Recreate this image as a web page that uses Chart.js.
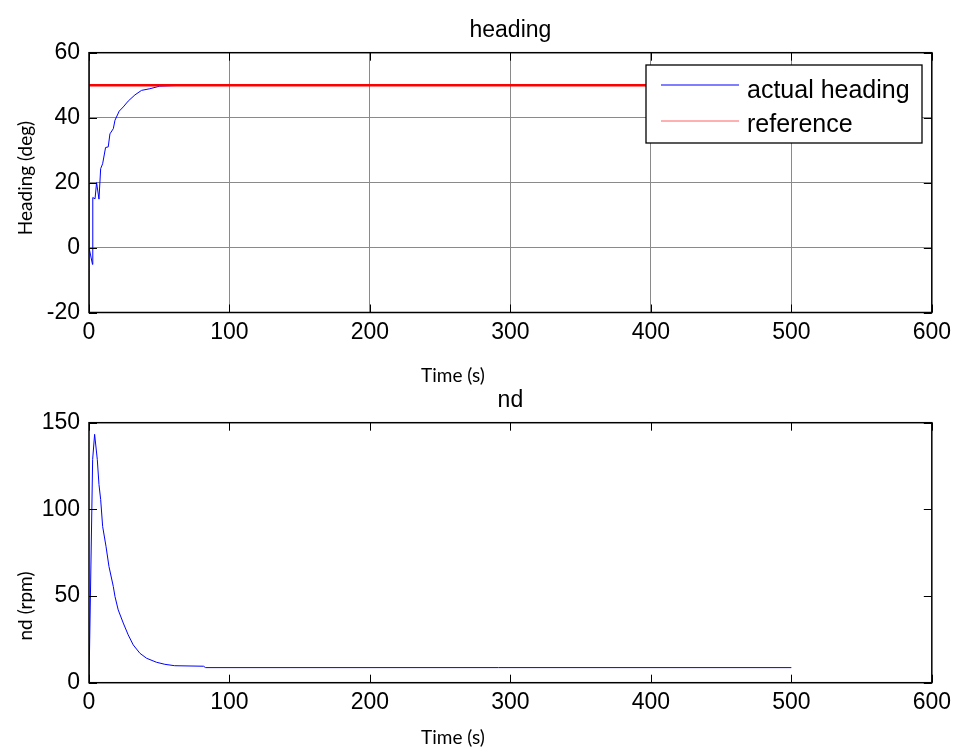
<!DOCTYPE html>
<html><head><meta charset="utf-8">
<script src="https://cdn.jsdelivr.net/npm/chart.js@4.4.1/dist/chart.umd.min.js"></script>
<style>
html,body{margin:0;padding:0;background:#fff;width:957px;height:749px;overflow:hidden}
canvas{position:absolute;left:0;display:block;background:transparent}
</style></head><body>
<canvas id="c1" width="957" height="400" style="top:0px"></canvas>
<canvas id="c2" width="957" height="379" style="top:370px"></canvas>
<script>
// ---- data ----
const headingTime = [0, 2.5, 2.7, 4.3, 5.4, 7.1, 8.3, 9.7, 11.8, 13.7, 14.9, 17.3, 18.5, 21.5, 24.4, 27.9, 32.7, 37.4, 43.3, 50.4, 62.3];
const headingActual = [0, -5.2, 15.4, 15.0, 20.0, 14.9, 24.3, 25.8, 30.8, 31.0, 35.0, 36.6, 39.2, 42.0, 43.3, 45.1, 47.0, 48.4, 48.9, 49.7, 49.9];
const referenceTime = [0, 500];
const referenceValue = [50, 50];
const ndTime = [0, 2.6, 4.0, 5.9, 7.1, 8.3, 9.7, 12.1, 14.2, 17.3, 18.5, 20.8, 24.4, 27.9, 31.5, 36.2, 41.0, 48.0, 54.0, 61.0, 81.5, 83.0, 500];
const ndValue = [0, 128.8, 143.3, 128.8, 114.3, 105.7, 90.2, 78.7, 67.1, 55.5, 49.7, 42.0, 34.4, 27.6, 21.8, 17.0, 14.1, 11.8, 10.6, 9.8, 9.5, 8.7, 8.7];
const timeTicks = [0, 100, 200, 300, 400, 500, 600];
const headingTicks = [-20, 0, 20, 40, 60];
const ndTicks = [0, 50, 100, 150];
const legendLabels = ['actual heading', 'reference'];

const pts = (xs, ys) => xs.map((x, i) => ({x: x, y: ys[i]}));
const TICK_FONT = {family: '"Liberation Sans", Arial, sans-serif', size: 23};

function decorPlugin(cfg) {
  return {
    id: 'decor',
    afterDraw(chart) {
      const ctx = chart.ctx, ca = chart.chartArea;
      const xs = chart.scales.x, ys = chart.scales.y;
      ctx.save();
      // inward tick marks
      ctx.strokeStyle = '#000'; ctx.lineWidth = 1;
      const L = 8;
      ctx.beginPath();
      cfg.xTicks.forEach(v => {
        const p = Math.round(xs.getPixelForValue(v)) + 0.5;
        ctx.moveTo(p, ca.bottom); ctx.lineTo(p, ca.bottom - L);
        ctx.moveTo(p, ca.top); ctx.lineTo(p, ca.top + L);
      });
      cfg.yTicks.forEach(v => {
        const p = Math.round(ys.getPixelForValue(v)) + 0.5;
        ctx.moveTo(ca.left, p); ctx.lineTo(ca.left + L, p);
        ctx.moveTo(ca.right, p); ctx.lineTo(ca.right - L, p);
      });
      ctx.stroke();
      // legend
      if (cfg.legend) {
        const lg = cfg.legend;
        ctx.fillStyle = '#fff';
        ctx.fillRect(lg.x, lg.y, lg.w, lg.h);
        ctx.strokeStyle = '#000'; ctx.lineWidth = 1.3;
        ctx.strokeRect(lg.x, lg.y, lg.w, lg.h);
        lg.items.forEach(it => {
          ctx.strokeStyle = it.color; ctx.lineWidth = 1;
          ctx.beginPath(); ctx.moveTo(lg.x + 15, it.ly); ctx.lineTo(lg.x + 93, it.ly); ctx.stroke();
          ctx.fillStyle = '#000';
          ctx.font = '25px "Liberation Sans", Arial, sans-serif';
          ctx.textAlign = 'left'; ctx.textBaseline = 'alphabetic';
          ctx.fillText(it.text, lg.x + 101, it.ty);
        });
      }
      // frame
      ctx.strokeStyle = '#000'; ctx.lineWidth = 1.5;
      ctx.strokeRect(ca.left, ca.top, ca.right - ca.left, ca.bottom - ca.top);
      // title
      ctx.fillStyle = '#000';
      ctx.font = '23px "Liberation Sans", Arial, sans-serif';
      ctx.textAlign = 'center'; ctx.textBaseline = 'alphabetic';
      ctx.fillText(cfg.title, (ca.left + ca.right) / 2, ca.top - 16);
      // axis labels
      ctx.font = '19px Lato, "Open Sans", sans-serif';
      ctx.textBaseline = 'middle';
      ctx.fillText(cfg.xLabel, cfg.xLabelX, cfg.xLabelY);
      ctx.translate(cfg.yLabelX, cfg.yLabelY);
      ctx.rotate(-Math.PI / 2);
      ctx.fillText(cfg.yLabel, 0, 0);
      ctx.restore();
    }
  };
}

function makeChart(id, datasets, yMin, yMax, yTicks, grid, padTop, canvasH, bottomPx, deco) {
  const gridOpt = grid
    ? {display: true, color: '#8a8a8a', lineWidth: 1, drawTicks: false}
    : {display: false, drawTicks: false};
  return new Chart(document.getElementById(id), {
    type: 'scatter',
    data: {datasets: datasets},
    options: {
      responsive: false, animation: false, devicePixelRatio: 1,
      layout: {padding: {left: 0, right: 957 - 933.5, top: padTop, bottom: 0}},
      plugins: {legend: {display: false}, tooltip: {enabled: false}, title: {display: false}},
      elements: {point: {radius: 0}, line: {tension: 0}},
      scales: {
        x: {
          type: 'linear', min: 0, max: 600,
          afterBuildTicks: s => { s.ticks = timeTicks.map(v => ({value: v})); },
          afterFit: s => { s.height = canvasH - bottomPx; },
          grid: gridOpt, border: {display: false},
          ticks: {color: '#000', font: TICK_FONT, padding: 6, maxRotation: 0}
        },
        y: {
          type: 'linear', min: yMin, max: yMax,
          afterBuildTicks: s => { s.ticks = yTicks.map(v => ({value: v})); },
          afterFit: s => { s.width = 89; },
          grid: gridOpt, border: {display: false},
          ticks: {color: '#000', font: TICK_FONT, padding: 9}
        }
      }
    },
    plugins: [decorPlugin(deco)]
  });
}

makeChart('c1', [
  {label: legendLabels[1], data: pts(referenceTime, referenceValue), showLine: true, borderColor: '#ff0000', borderWidth: 2.6, order: 0},
  {label: legendLabels[0], data: pts(headingTime, headingActual), showLine: true, borderColor: '#0000ff', borderWidth: 1, order: 1}
], -20, 60, headingTicks, true, 52.7, 400, 312.5, {
  xTicks: timeTicks, yTicks: headingTicks, title: 'heading',
  xLabel: 'Time (s)', xLabelX: 453, xLabelY: 376,
  yLabel: 'Heading (deg)', yLabelX: 26, yLabelY: 178,
  legend: {x: 646, y: 65, w: 276, h: 78, items: [
    {text: legendLabels[0], color: '#0000ff', ly: 85, ty: 98},
    {text: legendLabels[1], color: '#ff6060', ly: 121, ty: 132}
  ]}
});

makeChart('c2', [
  {label: 'nd', data: pts(ndTime, ndValue), showLine: true, borderColor: '#0000ff', borderWidth: 1}
], 0, 150, ndTicks, false, 52.7, 379, 312.7, {
  xTicks: timeTicks, yTicks: ndTicks, title: 'nd',
  xLabel: 'Time (s)', xLabelX: 453, xLabelY: 368,
  yLabel: 'nd (rpm)', yLabelX: 26, yLabelY: 236
});
</script>
</body></html>
